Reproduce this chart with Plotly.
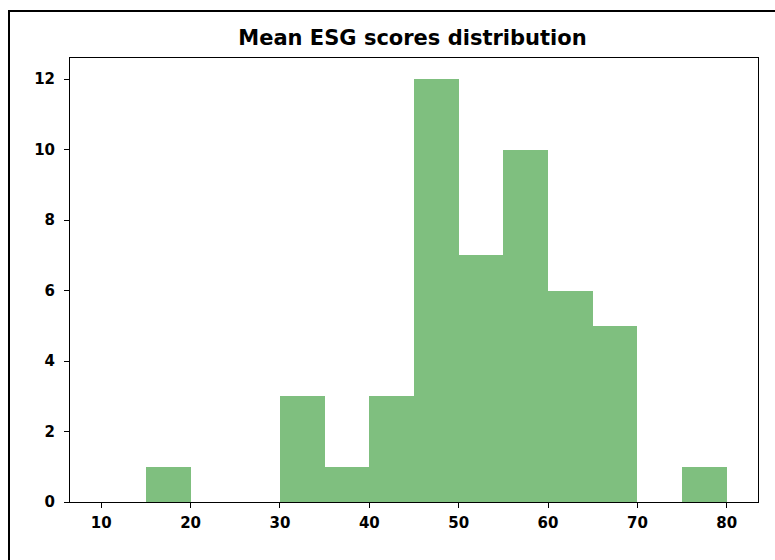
import plotly.graph_objects as go

bin_starts = [10, 15, 20, 25, 30, 35, 40, 45, 50, 55, 60, 65, 70, 75]
counts = [0, 1, 0, 0, 3, 1, 3, 12, 7, 10, 6, 5, 0, 1]
bin_width = 5
x_ticks = [10, 20, 30, 40, 50, 60, 70, 80]
y_ticks = [0, 2, 4, 6, 8, 10, 12]
title = "Mean ESG scores distribution"

centers = [s + bin_width / 2 for s in bin_starts]

fig = go.Figure(go.Bar(
    x=centers, y=counts, width=[bin_width] * len(centers),
    marker=dict(color="rgba(0,128,0,0.5)", line=dict(width=0)),
    hoverinfo="skip",
))

W, H = 775, 560
l, r, t, b = 70, 17, 58, 58
pw, ph = W - l - r, H - t - b
fx = (9 - l) / pw
fy = (H - b - 11) / ph

tick_font = dict(family="DejaVu Sans", size=15, color="black", weight="bold")

fig.update_layout(
    width=W, height=H,
    margin=dict(l=l, r=r, t=t, b=b, pad=0),
    paper_bgcolor="white", plot_bgcolor="white",
    bargap=0, showlegend=False,
    font=dict(family="DejaVu Sans", size=15, color="black", weight="bold"),
    title=dict(text=title, x=(l + pw / 2) / W - 0.002, xanchor="center",
               y=1 - 38 / H, yanchor="middle",
               font=dict(family="DejaVu Sans", size=21, color="black", weight="bold")),
    xaxis=dict(range=[6.5, 83.5], tickvals=x_ticks, ticks="outside", ticklen=5,
               tickcolor="black", showline=True, linecolor="black", linewidth=1,
               mirror=True, showgrid=False, zeroline=False,
               ticklabelstandoff=2, tickfont=tick_font),
    yaxis=dict(range=[0, 12.6], tickvals=y_ticks, ticks="outside", ticklen=5,
               tickcolor="black", showline=True, linecolor="black", linewidth=1,
               mirror=True, showgrid=False, zeroline=False,
               ticklabelstandoff=6, tickfont=tick_font),
    shapes=[dict(type="path", xref="paper", yref="paper",
                 path=f"M {fx} -0.3 L {fx} {fy} L 1.1 {fy}",
                 line=dict(color="black", width=2))],
)

fig.write_html("out.html")
